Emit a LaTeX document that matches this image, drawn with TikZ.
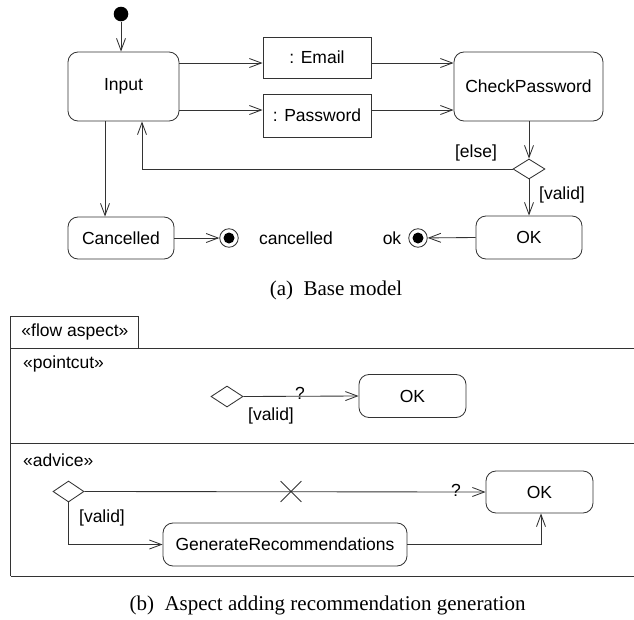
\documentclass[tikz,border=0pt]{standalone}
\usepackage{fontspec}
\setmainfont{Liberation Serif}
\newfontfamily\umlfont{Liberation Sans}
\usetikzlibrary{arrows.meta,shapes.geometric,shapes.misc}

\tikzset{
  umlline/.style={line width=0.85pt, draw=black!80},
  flow/.style={umlline, -{Straight Barb[length=12pt,width=9pt]}},
  action/.style={umlline, rounded corners=10pt, font=\umlfont\fontsize{17.5}{20}\selectfont, inner sep=0pt},
  objbox/.style={umlline, font=\umlfont\fontsize{17.5}{20}\selectfont, inner sep=0pt},
  decision/.style={umlline, diamond, inner sep=0pt, minimum width=32pt, minimum height=20pt},
  startstate/.style={circle, fill=black, inner sep=0pt, minimum size=14.6pt},
  endstate/.style={circle, umlline, inner sep=0pt, minimum size=18.5pt,
    path picture={\fill (path picture bounding box.center) circle (5.5pt);}},
  lbl/.style={font=\umlfont\fontsize{17.5}{20}\selectfont, inner sep=0pt},
  caption/.style={font=\fontsize{21}{24}\selectfont, inner sep=0pt}
}

\begin{document}
\begin{tikzpicture}[x=1pt, y=-1pt]
\useasboundingbox (0,0) rectangle (634,619);

% (a) base model
\node [startstate] (init) at (121,14) {};
\node [action, minimum width=111pt, minimum height=69pt] (input) at (123.5,86.5) {Input};
\node [objbox, minimum width=108pt, minimum height=41pt] (email) at (317,57.5) {: Email};
\node [objbox, minimum width=108pt, minimum height=43pt] (password) at (317,115.5) {: Password};
\node [action, minimum width=149pt, minimum height=69pt] (check) at (528.5,86.5) {CheckPassword};
\node [decision] (dec) at (529,169) {};
\node [action, minimum width=106pt, minimum height=43pt] (ok) at (529,237.5) {OK};
\node [endstate] (okend) at (418,238) {};
\node [action, minimum width=106pt, minimum height=42pt] (cancelled) at (121,238) {Cancelled};
\node [endstate] (cancelend) at (229,238) {};

\node [lbl] (oklbl) at (392,238) {ok};
\node [lbl] (cancellbl) at (296,238) {cancelled};
\node [lbl] (elselbl) at (476,153) {[else]};
\node [lbl] (validlbl) at (562,195) {[valid]};

\coordinate (emailin) at ([yshift=-5.5pt]email.west);
\coordinate (passin) at ([yshift=5.5pt]password.west);
\coordinate (cantop) at ([xshift=-16pt]cancelled.north);

\draw [flow] (init) -- (init |- input.north);
\draw [flow] (input.east |- emailin) -- (emailin);
\draw [flow] (input.east |- passin) -- (passin);
\draw [flow] (email.east |- emailin) -- (check.west |- emailin);
\draw [flow] (password.east |- passin) -- (check.west |- passin);
\draw [flow] (check.south -| dec) -- (dec.north);
\draw [flow] (dec.west) -| ([xshift=18.5pt]input.south);
\draw [flow] (dec.south) -- (ok.north);
\draw [flow] (ok.west) -- (okend);
\draw [flow] (cantop |- input.south) -- (cantop);
\draw [flow] (cancelled.east) -- (cancelend);

\node [caption] (capa) at (336,290) {(a)\enspace Base model};

% (b) aspect
\draw [umlline] (10.5,576) -- (10.5,316) -- (138,316) -- (138,348);
\draw [umlline] (10.5,348) -- (640,348);
\draw [umlline] (10.5,443) -- (640,443);
\draw [umlline] (10.5,576) -- (640,576);

\node [lbl] (flowlbl) at (75,332) {«flow aspect»};
\node [lbl, anchor=west] (pclbl) at (23,364) {«pointcut»};
\node [lbl, anchor=west] (advlbl) at (23,460) {«advice»};

% pointcut
\node [decision, minimum height=21pt] (pcdec) at (227,396.5) {};
\node [action, minimum width=107pt, minimum height=43pt] (pcok) at (412.5,396) {OK};
\draw [flow] (pcdec.east) -- (pcok.west);
\node [lbl] (pcq) at (300,393) {?};
\node [lbl] (pcvalid) at (271,416) {[valid]};

% advice
\node [decision, minimum width=31pt, minimum height=21pt] (advdec) at (68.5,491.5) {};
\node [action, minimum width=107pt, minimum height=42pt] (advok) at (539.5,492) {OK};
\node [action, minimum width=244pt, minimum height=43pt] (gen) at (285,544.5) {GenerateRecommendations};
\node [cross out, umlline, minimum size=20pt] (cut) at (291,491.5) {};
\draw [flow] (advdec.east) -- (advok.west);
\draw [flow] (advdec.south) |- (gen.west);
\draw [flow] (gen.east) -| ([xshift=1.5pt]advok.south);
\node [lbl] (advq) at (456,490) {?};
\node [lbl] (advvalid) at (102,518) {[valid]};

\node [caption] (capb) at (327.5,605) {(b)\enspace Aspect adding recommendation generation};
\end{tikzpicture}
\end{document}
